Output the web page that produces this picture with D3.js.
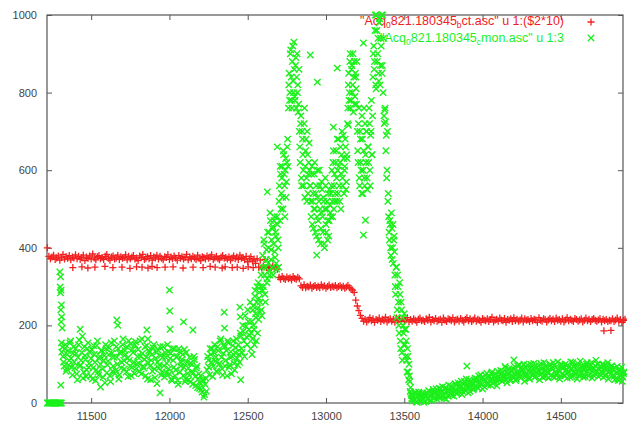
<!DOCTYPE html>
<html>
<head>
<meta charset="utf-8">
<script src="https://cdn.jsdelivr.net/npm/d3@7"></script>
<style>
  body { margin: 0; background: #fff; }
  svg { display: block; font-family: "Liberation Sans", Arial, sans-serif; }
</style>
</head>
<body>
<div id="container"></div>
<script>
let w = 627;
let h = 425;
let margin = {left: 47, right: 4, top: 15, bottom: 22};

let xTicks = [11500, 12000, 12500, 13000, 13500, 14000, 14500];
let yTicks = [0, 200, 400, 600, 800, 1000];

let redColor = "#f22020";
let greenColor = "#1cf01c";

// ---- ct.asc column 2 * 10 (red +) ----
// red A: from 11220, every 10
let redA = [400,378,372,376,381,370,374,379,368,375,383,371,377,373,380,369,376,374,382,372,
  378,370,375,381,367,376,373,379,371,384,374,369,377,380,372,375,370,378,383,373,
  368,376,379,371,374,381,370,377,373,375,382,369,378,372,376,380,371,374,367,379,
  375,383,370,373,377,372,380,368,376,374,381,371,378,373,369,377,375,382,370,376,
  372,379,374,368,380,373,377,371,375,383,369,376,372,378,374,370,381,373,367,377,
  375,371,379,373,376,382,370,374,378,372,369,376,380,373,375,371,377,368,374,379,
  372,376,370,381,373,375,369,378,364,372,377,366,371,360];
// red B: from 12560, every 10
let redB = [372,350,368,348,352,370,349,347,
  351,348,353,346,350,345,
  324,319,326,321,318,325,320,323,317,326,321,319,324,320,
  302,298,305,297,301,299,304,296,300,303,298,301,297,305,299,302,296,300,304,298,
  301,299,303,297,300,302,298,301,296,299,303,297,294,291,
  285,265,250,238,226];
// red C: from 13230, every 10
let redC = [218,211,216,209,214,220,212,217,208,215,213,219,210,216,212,221,209,214,217,211,
  215,208,219,213,216,210,218,212,214,220,209,215,211,217,213,208,216,219,212,214,
  210,217,213,221,209,215,212,218,211,214,216,208,219,213,210,217,215,212,220,209,
  214,216,211,218,213,209,215,220,212,217,210,214,219,211,216,213,208,218,214,212,
  217,210,215,221,209,213,216,211,219,214,212,218,208,215,213,217,210,220,212,216,
  211,214,219,209,217,213,215,210,218,212,216,214,208,220,213,211,217,215,209,214,
  218,212,216,210,219,213,215,211,217,209,214,220,212,216,213,210,218,215,211,214,
  217,209,213,219,212,216,210,215,218,213,211,214,217,209,216,212,215,210,213,
  212,217,210,214,219,211,215,208,213,216];
// red extra points (lower row + strays)
let redExtraX = [11383,11441,11479,11524,11588,11639,11697,11748,11790,11825,11863,11889,11921,11972,
  12023,12087,12151,12215,12260,12292,12337,12356,12401,12433,12471,12503,12535,14775,14820];
let redExtraY = [349,351,348,350,352,349,350,347,351,350,348,352,349,350,
  351,348,350,349,352,350,348,351,349,350,347,351,349,186,187];

// ---- mon.asc column 3 (green x) ----
let greenZeroX = [11220,11225,11230,11235,11240,11245,11250,11255,11260,11265,11270,11275,11280,11285,11290,11295,11300,11305,11310];
let greenZeroY = [0,0,0,0,0,0,0,0,0,0,0,0,0,0,0,0,0,0,0];
let greenSpikeX = [11300,11305,11302,11308,11304,11310,11306,11312,11308,11315,11310,11316,11312,11306];
let greenSpikeY = [338,325,299,291,284,253,240,222,209,193,155,144,131,46];
// green base: from 11320, every 8
let greenBase = [120,95,150,88,135,110,160,92,128,105,
  140,75,118,162,98,130,64,145,112,85,
  155,102,70,138,90,125,58,148,80,115,
  100,135,66,122,150,78,108,142,55,128,
  95,160,84,118,140,72,132,105,165,88,
  125,145,68,110,152,92,130,76,158,100,
  138,82,120,165,95,112,70,148,104,130,
  60,125,142,88,115,50,136,98,122,80,
  145,67,118,102,132,75,128,58,110,140,
  85,120,48,132,95,112,70,138,62,105,
  90,118,55,100,78,112,45,95,62,38,
  70,28,55,22,64,85,110,72,125,140,
  95,150,118,80,135,102,165,88,128,145,
  110,70,155,98,132,120,160,85,142,115,
  150,105,172,130,185,120,198,150,210,175];
// second reading, from 11324, every 8
let greenBase2 = [105,140,82,125,98,155,115,72,145,90,
  128,60,150,95,110,172,80,122,68,140,
  92,130,115,62,148,105,85,160,72,120,
  135,88,110,52,140,98,125,70,155,82,
  118,76,145,100,62,128,90,150,110,135,
  80,115,160,95,70,138,105,150,88,120,
  102,160,75,128,90,145,118,62,135,95,
  110,82,150,65,130,105,90,145,72,118,
  96,130,78,150,88,115,62,140,92,70,
  118,58,140,80,105,125,92,55,130,76,
  60,102,80,48,120,68,90,40,75,52,
  35,60,15,48,30,120,92,140,105,68,
  130,108,82,145,100,160,118,72,150,95,
  135,160,92,118,75,148,102,130,165,98,
  125,180,140,200,160,225,170,240,190,260];
// green peaks: from 12520, every 5
let greenPeak = [140,210,165,250,190,275,230,160,300,245,215,285,
  260,330,225,380,300,410,280,350,395,320,
  360,440,330,470,395,350,455,410,480,375,430,345,460,400,
  520,470,590,540,610,500,640,560,600,530,620,680,
  760,850,800,910,780,880,830,930,790,870,760,900,820,770,
  700,620,740,560,680,600,720,530,650,580,700,540,620,600,
  560,480,610,520,450,590,500,540,430,600,470,520,560,410,490,550,440,520,400,580,460,500,420,540,470,510,
  480,560,520,620,500,590,540,650,520,600,680,560,620,500,640,580,690,540,610,660,570,630,
  760,850,800,900,780,870,820,750,880,790,840,770,
  700,620,760,560,680,600,740,540,650,580,720,620,700,550,660,760,600,690,780,640,
  840,920,880,1000,810,960,900,850,980,820,940,1000,870,800,
  740,755,725,690,600,520,
  480,420,460,380,450,400,360,430,
  330,280,350,240,300,200,310,160,260,130,220,180,
  230,150,190,110,140,80,100,55,40,20,8];
// second reading, from 12522.5, every 5
let greenPeak2 = [180,125,240,200,150,290,220,260,180,310,270,235,
  300,240,350,290,420,330,260,370,310,440,
  400,340,490,370,420,450,330,470,390,440,360,480,420,350,
  560,610,500,580,530,650,590,480,630,570,660,610,
  820,780,900,840,760,920,800,860,780,890,840,800,750,860,
  660,720,580,700,640,560,760,610,680,520,640,590,670,560,
  520,590,460,540,500,620,440,560,480,530,420,600,500,450,570,480,530,410,500,560,440,520,470,430,550,490,
  540,600,480,650,560,520,620,580,680,540,610,520,660,590,700,560,630,600,680,550,640,720,
  820,780,880,760,860,800,900,840,770,850,810,880,
  650,720,580,700,620,540,680,600,760,560,640,700,580,660,620,720,560,700,640,740,
  900,860,960,820,1000,880,940,830,990,870,920,850,1000,940,
  720,760,650,580,700,540,
  440,470,400,490,370,460,420,390,
  300,350,220,330,260,180,280,140,240,110,200,150,
  190,120,160,80,120,60,70,30,25,12,5];
// green recovery: from 13556, every 8
let greenTail = [20,8,28,2,15,25,5,18,10,22,
  4,26,12,30,8,20,35,14,28,10,
  24,38,16,32,22,12,40,26,18,34,
  44,20,36,28,48,24,52,30,42,22,
  38,56,32,46,26,60,40,50,34,58,
  44,62,38,54,72,48,66,42,58,76,
  50,68,46,80,60,54,74,44,70,62,
  84,56,72,64,90,52,78,68,60,86,
  66,94,58,80,72,98,64,86,76,56,
  92,70,82,62,100,74,88,66,96,78,
  84,60,102,76,90,68,94,80,64,98,
  72,88,104,66,92,78,86,62,100,74,
  96,70,84,64,90,80,106,68,94,76,
  88,62,100,72,82,96,66,92,78,104,
  70,86,98,64,90,76,110,82,68,94,
  80,100,66,88,74,96,62,84,92,70,
  86,60,78,94,58,82,72,56,76];
// second reading, from 13560, every 8
let greenTail2 = [10,24,4,18,28,6,14,26,2,16,
  22,10,32,18,6,28,12,24,36,16,
  30,14,26,42,20,36,10,32,46,24,
  28,40,18,50,34,26,44,38,56,30,
  48,34,62,42,52,30,56,46,38,64,
  56,40,70,50,64,36,60,72,52,46,
  66,58,76,50,70,64,56,82,60,72,
  62,78,70,94,60,74,88,58,82,70,
  88,72,62,96,78,68,90,82,100,70,
  76,98,64,88,80,72,102,68,90,84,
  96,74,88,66,104,82,70,92,78,100,
  90,68,96,80,74,106,84,70,98,88,
  72,100,86,78,94,66,90,104,80,74,
  98,84,70,108,76,92,86,68,100,82,
  90,74,104,86,70,96,80,100,88,72,
  92,76,98,70,86,104,80,74,96,88,
  68,90,80,62,86,74,92,66,80];
// green strays
let greenStrayX = [11430,11560,11664,11670,11856,11862,11940,12000,12002,12004,12090,12150,12350,12352,12450,12452,12455,
  12625,12689,12900,12945,12941,13047,13072,13143,13239,13239,13252,13900,14200];
let greenStrayY = [190,41,214,200,188,165,26,291,237,190,209,188,234,193,247,222,60,
  544,660,897,827,381,711,863,716,928,433,471,95,111];

///////////////////////////

function series(start, step, values) {
  return values.map(function(v, i) { return {x: start + i * step, y: v}; });
}
function pairs(xs, ys) {
  return xs.map(function(v, i) { return {x: v, y: ys[i]}; });
}

let redData = series(11220, 10, redA)
  .concat(series(12560, 10, redB))
  .concat(series(13230, 10, redC))
  .concat(pairs(redExtraX, redExtraY));

let greenData = pairs(greenZeroX, greenZeroY)
  .concat(pairs(greenSpikeX, greenSpikeY))
  .concat(series(11320, 8, greenBase))
  .concat(series(11324, 8, greenBase2))
  .concat(series(12520, 5, greenPeak))
  .concat(series(12522.5, 5, greenPeak2))
  .concat(series(13556, 8, greenTail))
  .concat(series(13560, 8, greenTail2))
  .concat(pairs(greenStrayX, greenStrayY));

let viz = d3.select("#container").append("svg")
  .attr("width", w)
  .attr("height", h)
  .style("background-color", "white");

let xScale = d3.scaleLinear().domain([11218, 14897]).range([margin.left, w - margin.right]);
let yScale = d3.scaleLinear().domain([0, 1000]).range([h - margin.bottom, margin.top]);

let axisColor = "#555";

// axes (ticks point inward, mirrored)
let xAxis = viz.append("g")
  .attr("transform", "translate(0," + (h - margin.bottom) + ")")
  .call(d3.axisBottom(xScale).tickValues(xTicks).tickSize(-5).tickPadding(9).tickFormat(d3.format("d")));
let xTop = viz.append("g")
  .attr("transform", "translate(0," + margin.top + ")")
  .call(d3.axisTop(xScale).tickValues(xTicks).tickSize(-5).tickFormat(""));
let yAxis = viz.append("g")
  .attr("transform", "translate(" + margin.left + ",0)")
  .call(d3.axisLeft(yScale).tickValues(yTicks).tickSize(-5).tickPadding(10).tickFormat(d3.format("d")));
let yRight = viz.append("g")
  .attr("transform", "translate(" + (w - margin.right) + ",0)")
  .call(d3.axisRight(yScale).tickValues(yTicks).tickSize(-5).tickFormat(""));

[xAxis, xTop, yAxis, yRight].forEach(function(g) {
  g.select(".domain").remove();
  g.selectAll("line").attr("stroke", axisColor);
  g.selectAll("text").attr("fill", "#444").style("font-size", "11px");
});

viz.append("rect")
  .attr("x", margin.left)
  .attr("y", margin.top)
  .attr("width", w - margin.left - margin.right)
  .attr("height", h - margin.top - margin.bottom)
  .attr("fill", "none")
  .attr("stroke", axisColor)
  .attr("stroke-width", 1.2);

// key
let key = viz.append("g").style("font-size", "12.5px");
function keyLine(y, color, name, sub, rest) {
  let t = key.append("text")
    .attr("x", 564)
    .attr("y", y)
    .attr("text-anchor", "end")
    .attr("fill", color);
  t.append("tspan").text("\"Acq");
  t.append("tspan").attr("dy", 3).style("font-size", "8.5px").text("0");
  t.append("tspan").attr("dy", -3).text(name);
  t.append("tspan").attr("dy", 3).style("font-size", "8.5px").text(sub);
  t.append("tspan").attr("dy", -3).text(rest);
}
keyLine(25, redColor, "821.180345", "b", "ct.asc\" u 1:($2*10)");
keyLine(42, greenColor, "821.180345", "c", "mon.asc\" u 1:3");

let plusPath = "M-3.5,0H3.5M0,-3.5V3.5";
let crossPath = "M-3.2,-3.2L3.2,3.2M-3.2,3.2L3.2,-3.2";

key.append("path").attr("d", plusPath).attr("transform", "translate(591,22)")
  .attr("stroke", redColor).attr("fill", "none").attr("stroke-width", 1.3);
key.append("path").attr("d", crossPath).attr("transform", "translate(591,38)")
  .attr("stroke", greenColor).attr("fill", "none").attr("stroke-width", 1.3);

// points
viz.append("g").selectAll("path").data(redData).enter()
  .append("path")
  .attr("d", plusPath)
  .attr("transform", function(d) { return "translate(" + xScale(d.x) + "," + yScale(d.y) + ")"; })
  .attr("stroke", redColor)
  .attr("stroke-width", 1.3)
  .attr("fill", "none");

viz.append("g").selectAll("path").data(greenData).enter()
  .append("path")
  .attr("d", crossPath)
  .attr("transform", function(d) { return "translate(" + xScale(d.x) + "," + yScale(d.y) + ")"; })
  .attr("stroke", greenColor)
  .attr("stroke-width", 1.4)
  .attr("fill", "none");
</script>
</body>
</html>
